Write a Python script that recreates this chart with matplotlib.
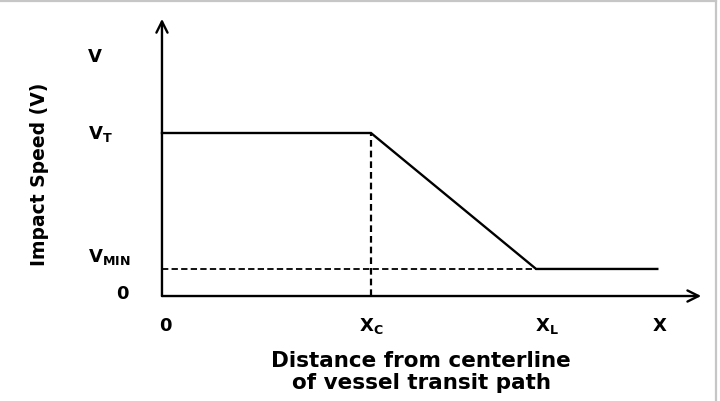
import matplotlib.pyplot as plt
from matplotlib.lines import Line2D

# schematic values (x in units of X_C, y in units of V_T)
x_c = 1.0
x_l = 1.79
x_end = 2.37
v_t = 1.0
v_min = 0.166

curve_x = [0, x_c, x_l, x_end]
curve_y = [v_t, v_t, v_min, v_min]

x_ticks = [0.015, x_c, 1.84, 2.38]
x_tick_labels = ["0", "X$_\\mathregular{C}$", "X$_\\mathregular{L}$", "X"]
y_ticks = [1.47, v_t, v_min + 0.08, 0.02]
y_tick_labels = ["V", "V$_\\mathregular{T}$", "V$_\\mathregular{MIN}$", "0"]

x_tip = 2.58
y_tip = 1.70


def main():
    plt.rcParams["font.family"] = ["DejaVu Sans"]
    plt.rcParams["mathtext.default"] = "regular"

    fig = plt.figure(figsize=(7.2, 4.02), dpi=100)
    ax = fig.add_axes([0, 0, 1, 1])
    ax.set_xlim(-0.775, 2.670)
    ax.set_ylim(-0.644, 1.822)
    ax.axis("off")

    # light gray frame (top and right)
    fig.add_artist(Line2D([0, 0.995], [0.996, 0.996], color="#c6c6c6", lw=1.6,
                          transform=fig.transFigure))
    fig.add_artist(Line2D([0.995, 0.995], [0, 0.996], color="#c6c6c6", lw=1.6,
                          transform=fig.transFigure))

    # axes with arrows
    arrow = dict(arrowstyle="->", lw=1.7, color="black", mutation_scale=20,
                 shrinkA=0, shrinkB=0)
    ax.annotate("", xy=(0, y_tip), xytext=(0, 0), arrowprops=arrow)
    ax.annotate("", xy=(x_tip, 0), xytext=(0, 0), arrowprops=arrow)

    # speed curve
    ax.plot(curve_x, curve_y, color="black", lw=1.7, solid_joinstyle="miter")

    # guide lines
    ax.plot([x_c, x_c], [0, v_t], color="black", lw=1.6, ls=(0, (3, 1.8)))
    ax.plot([0, x_l], [v_min, v_min], color="black", lw=1.3, ls=(0, (3.5, 1.8)))

    # tick labels
    for x, lab in zip(x_ticks, x_tick_labels):
        ax.text(x, -0.18, lab, ha="center", va="center",
                fontsize=13, fontweight="bold")
    for y, lab in zip(y_ticks, y_tick_labels):
        if lab == "0":
            ax.text(-0.19, y, lab, ha="center", va="center",
                    fontsize=13, fontweight="bold")
        else:
            ax.text(-0.355, y, lab, ha="left", va="center",
                    fontsize=13, fontweight="bold")

    ax.text(1.24, -0.46, "Distance from centerline\nof vessel transit path",
            ha="center", va="center", fontsize=15.5, fontweight="bold",
            linespacing=1.1)
    ax.text(-0.585, 0.75, "Impact Speed (V)", rotation=90, ha="center",
            va="center", fontsize=13.5, fontweight="bold")

    fig.savefig("out.png", dpi=100)
    plt.close(fig)


if __name__ == "__main__":
    main()
